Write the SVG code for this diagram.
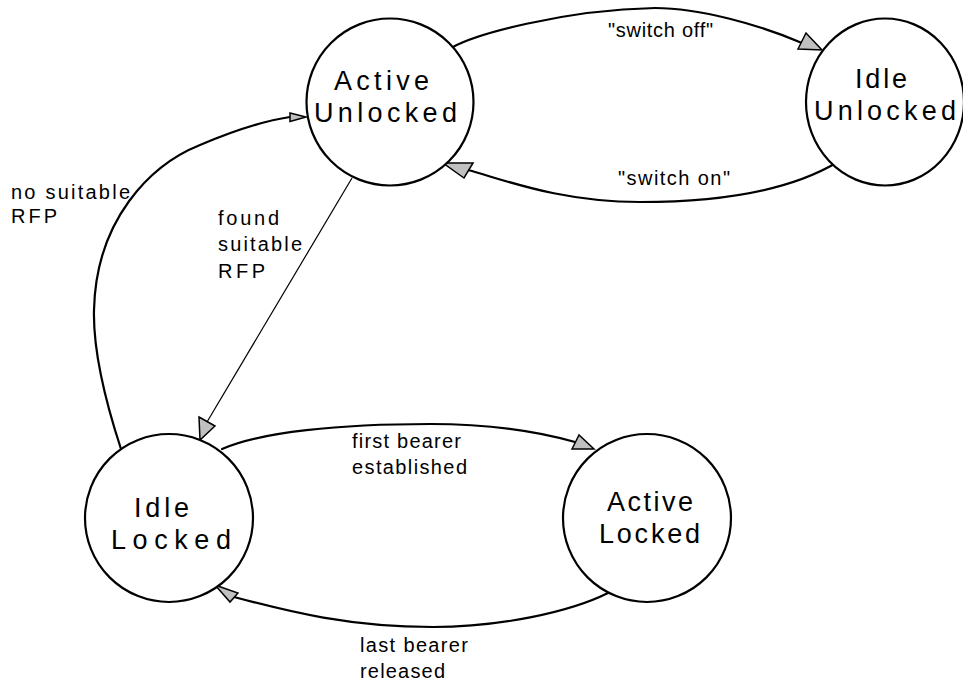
<svg xmlns="http://www.w3.org/2000/svg" width="963" height="682" viewBox="0 0 963 682">
<style>
.node{fill:#ffffff;stroke:#000000;stroke-width:2.2}
.nt{font-family:"Liberation Sans",Arial,sans-serif;font-size:27px;fill:#000000}
.et{font-family:"Liberation Sans",Arial,sans-serif;font-size:20px;fill:#000000}
.edge{fill:none;stroke:#000000;stroke-width:2.2;stroke-linecap:round}
.thin{fill:none;stroke:#000000;stroke-width:1.2}
.ah{fill:#c0c0c0;stroke:#000000;stroke-width:1.5;stroke-linejoin:miter}
</style>
<rect x="0" y="0" width="963" height="682" fill="#ffffff"/>
<g id="connectors">
  <g id="e-switch-off">
    <path class="edge" d="M453,47 C475,35 560,10 655,8 C700,8 760,25 802,43"/>
    <polygon class="ah" points="798,49 806,33 822,50"/>
  </g>
  <g id="e-switch-on">
    <path class="edge" d="M836,163 C790,190 720,202 640,202 C560,202 505,180 468,170"/>
    <polygon class="ah" points="473,163 464,178 443,163"/>
  </g>
  <g id="e-no-suitable">
    <path class="edge" d="M121,449 C105,400 93,350 94,310 C96,220 150,165 200,145 C240,128 270,120 290,117"/>
    <polygon class="ah" points="290,113 290,121.5 306,117"/>
  </g>
  <g id="e-found-suitable">
    <line class="thin" x1="352" y1="178" x2="207" y2="422"/>
    <polygon class="ah" points="199,417 215,426 200,440"/>
  </g>
  <g id="e-first-bearer">
    <path class="edge" d="M222,449 C260,432 340,424 430,424 C490,424 540,432 575,442"/>
    <polygon class="ah" points="572,449 579,435 594,449"/>
  </g>
  <g id="e-last-bearer">
    <path class="edge" d="M608,593 C570,612 500,627 433,627 C350,627 290,612 234,597"/>
    <polygon class="ah" points="238,593 230,602 215,585"/>
  </g>
  <g id="edge-labels">
    <text class="et" x="608" y="37" textLength="105" lengthAdjust="spacing">"switch off"</text>
    <text class="et" x="618" y="185" textLength="112" lengthAdjust="spacing">"switch on"</text>
    <text class="et" x="11" y="199" textLength="119" lengthAdjust="spacing">no suitable</text>
    <text class="et" x="11" y="223" textLength="46" lengthAdjust="spacing">RFP</text>
    <text class="et" x="218" y="225" textLength="61" lengthAdjust="spacing">found</text>
    <text class="et" x="218" y="251" textLength="84" lengthAdjust="spacing">suitable</text>
    <text class="et" x="218" y="278" textLength="47" lengthAdjust="spacing">RFP</text>
    <text class="et" x="352" y="448" textLength="109" lengthAdjust="spacing">first bearer</text>
    <text class="et" x="352" y="474" textLength="115" lengthAdjust="spacing">established</text>
    <text class="et" x="360" y="652" textLength="108" lengthAdjust="spacing">last bearer</text>
    <text class="et" x="360" y="678" textLength="85" lengthAdjust="spacing">released</text>
  </g>
</g>
<g id="active-unlocked">
  <ellipse class="node" cx="390" cy="102" rx="83.5" ry="83.5"/>
  <text class="nt" x="334" y="90" textLength="95" lengthAdjust="spacing">Active</text>
  <text class="nt" x="314" y="122" textLength="143" lengthAdjust="spacing">Unlocked</text>
</g>
<g id="idle-unlocked">
  <ellipse class="node" cx="885" cy="102" rx="79" ry="83.5"/>
  <text class="nt" x="855" y="88" textLength="52" lengthAdjust="spacing">Idle</text>
  <text class="nt" x="814" y="120" textLength="142" lengthAdjust="spacing">Unlocked</text>
</g>
<g id="idle-locked">
  <ellipse class="node" cx="169" cy="518" rx="84" ry="84"/>
  <text class="nt" x="134" y="517" textLength="55" lengthAdjust="spacing">Idle</text>
  <text class="nt" x="111" y="549" textLength="120" lengthAdjust="spacing">Locked</text>
</g>
<g id="active-locked">
  <ellipse class="node" cx="647" cy="518" rx="84" ry="84"/>
  <text class="nt" x="607" y="511" textLength="86" lengthAdjust="spacing">Active</text>
  <text class="nt" x="599" y="543" textLength="101" lengthAdjust="spacing">Locked</text>
</g>
</svg>
